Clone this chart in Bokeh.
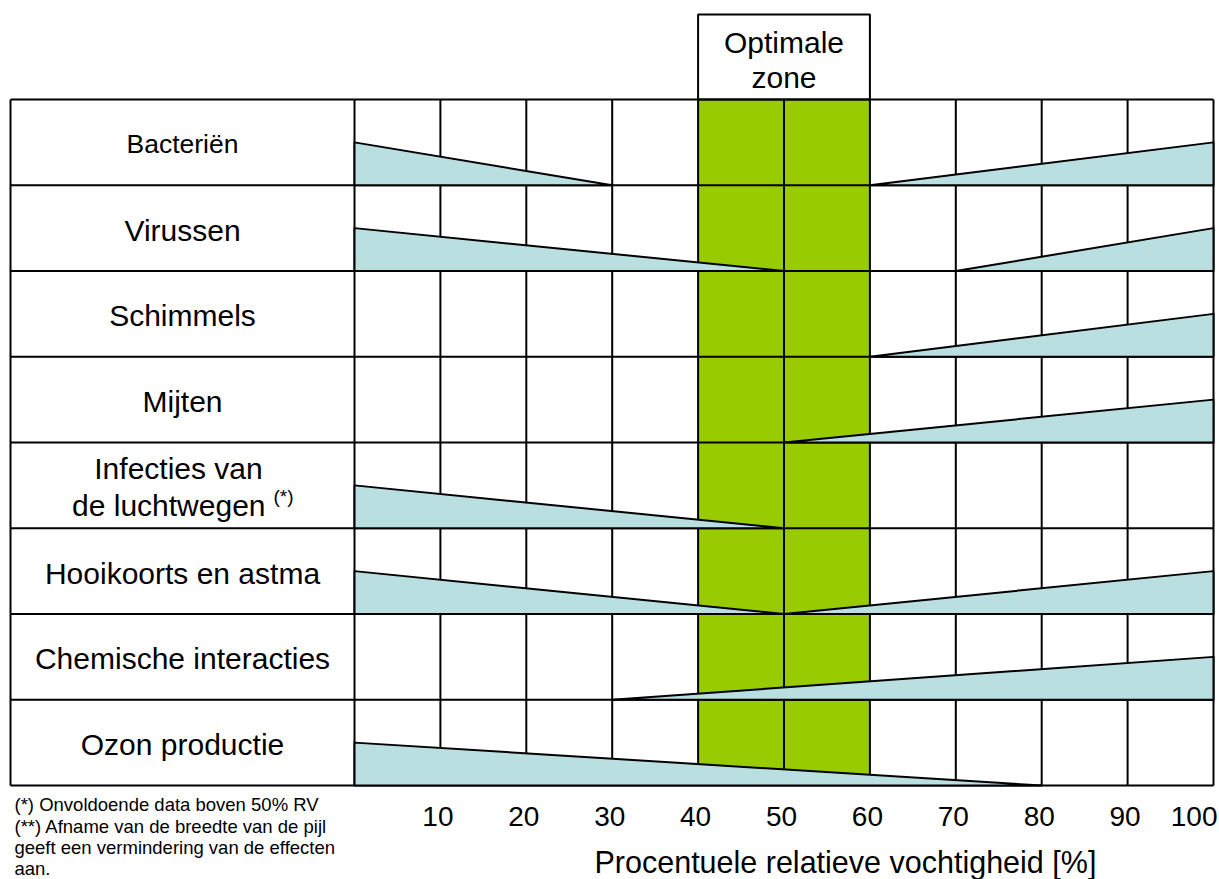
from bokeh.plotting import figure
from bokeh.models import ColumnDataSource, Range1d
from bokeh.core.properties import value
from bokeh.embed import file_html
from bokeh.resources import INLINE

# ---------------- data ----------------
categories = ["Bacteriën", "Virussen", "Schimmels", "Mijten",
              "Infecties van\nde luchtwegen", "Hooikoorts en astma",
              "Chemische interacties", "Ozon productie"]
markers = ["", "", "", "", "(*)", "", "", ""]
# left arrow: width (fraction of row) at 0 % RV, tapering to zero at left_end
left_width = [0.5, 0.5, 0.0, 0.0, 0.5, 0.5, 0.0, 0.5]
left_end = [30, 50, 0, 0, 50, 50, 0, 80]
# right arrow: starts at right_start, widening to right_width at 100 % RV
right_start = [60, 70, 60, 50, 100, 50, 30, 100]
right_width = [0.5, 0.5, 0.5, 0.5, 0.0, 0.5, 0.5, 0.0]
optimal_low, optimal_high = 40, 60
optimal_label = ["Optimale", "zone"]
tick_values = [10, 20, 30, 40, 50, 60, 70, 80, 90, 100]
grid_values = [0, 10, 20, 30, 40, 50, 60, 70, 80, 90, 100]
x_title = "Procentuele relatieve vochtigheid [%]"
footnotes = ["(*) Onvoldoende data boven 50% RV",
             "(**) Afname van de breedte van de pijl",
             "geeft een vermindering van de effecten",
             "aan."]

# ---------------- geometry ----------------
W, H = 1219, 879
PX = 8.59     # pixels per % RV
PY = 85.75    # pixels per row
X0_IMG, Y0_IMG = 354, 785   # canvas pixel of (0, 0)
SHIFT = 9     # text baseline correction (px, upward)

def dx(px):  # canvas px -> data x
    return (px - X0_IMG) / PX

def dy(py):  # canvas px (from top) -> data y
    return (Y0_IMG - py) / PY

def ty(py):  # text baseline px -> data y
    return dy(py - SHIFT)

FONT = value("Liberation Sans")
n = len(categories)
x_left = dx(10)
BLUE = "#B9DFE1"
GREEN = "#99CC00"

p = figure(width=W, height=H, output_backend="svg", toolbar_location=None,
           x_range=Range1d(dx(0), dx(W)), y_range=Range1d(dy(H), dy(0)),
           min_border=0, outline_line_color=None, background_fill_color="white",
           border_fill_color="white")
p.xaxis.visible = False
p.yaxis.visible = False
p.xgrid.visible = False
p.ygrid.visible = False

# optimal zone
p.quad(left=[optimal_low], right=[optimal_high], bottom=[0], top=[n],
       fill_color=GREEN, line_color=None)
p.quad(left=[optimal_low], right=[optimal_high], bottom=[n], top=[dy(14)],
       fill_color="white", line_color="black", line_width=2)
mid_opt = (optimal_low + optimal_high) / 2
p.text(x=[mid_opt, mid_opt], y=[ty(51), ty(86)], text=optimal_label,
       text_font=FONT, text_font_size="30px", text_align="center",
       text_baseline="alphabetic", text_color="black")

# grid lines
vx = [x_left] + grid_values
p.segment(x0=vx, y0=[0] * len(vx), x1=vx, y1=[n] * len(vx),
          line_color="black", line_width=2)
hy = list(range(n + 1))
p.segment(x0=[x_left] * len(hy), y0=hy, x1=[100] * len(hy), y1=hy,
          line_color="black", line_width=2)

# arrows (triangles)
xs, ys = [], []
for i in range(n):
    bottom = n - 1 - i
    if left_width[i] > 0:
        xs.append([0, 0, left_end[i]])
        ys.append([bottom, bottom + left_width[i], bottom])
    if right_width[i] > 0:
        xs.append([right_start[i], 100, 100])
        ys.append([bottom, bottom + right_width[i], bottom])
p.patches(xs=xs, ys=ys, fill_color=BLUE, line_color="black", line_width=2,
          line_join="round")

# category labels
label_x = (x_left + 0) / 2
single = dict(x=[], y=[], text=[], size=[])
for i, c in enumerate(categories):
    center_px = 99 + (i + 0.5) * PY
    if "\n" not in c:
        single["x"].append(label_x)
        single["y"].append(ty(center_px + 11))
        single["text"].append(c)
        single["size"].append("26.5px" if i == 0 else "30px")
    else:
        l1, l2 = c.split("\n")
        p.text(x=[dx(178)], y=[ty(center_px - 8)], text=[l1], text_font=FONT,
               text_font_size="30px", text_align="center",
               text_baseline="alphabetic", text_color="black")
        p.text(x=[dx(265)], y=[ty(center_px + 29)], text=[l2], text_font=FONT,
               text_font_size="30px", text_align="right",
               text_baseline="alphabetic", text_color="black")
        p.text(x=[dx(273)], y=[ty(center_px + 20)], text=[markers[i]],
               text_font=FONT, text_font_size="19px", text_align="left",
               text_baseline="alphabetic", text_color="black")
p.text(x="x", y="y", text="text", source=ColumnDataSource(single),
       text_font=FONT, text_font_size={"field": "size"}, text_align="center",
       text_baseline="alphabetic", text_color="black")

# tick labels
tick_y = ty(825)
p.text(x=[t - 2.5 / PX for t in tick_values[:-1]], y=[tick_y] * (len(tick_values) - 1),
       text=[str(t) for t in tick_values[:-1]], text_font=FONT, text_font_size="28px",
       text_align="center", text_baseline="alphabetic", text_color="black")
p.text(x=[tick_values[-1] + 4 / PX], y=[tick_y], text=[str(tick_values[-1])],
       text_font=FONT, text_font_size="28px", text_align="right",
       text_baseline="alphabetic", text_color="black")

# axis title
p.text(x=[dx(594)], y=[ty(870)], text=[x_title], text_font=FONT,
       text_font_size="30.5px", text_align="left", text_baseline="alphabetic",
       text_color="black")

# footnotes
fn_base = [813, 834.5, 856, 877]
p.text(x=[dx(14)] * len(footnotes), y=[ty(b) for b in fn_base],
       text=footnotes, text_font=FONT, text_font_size="18.5px", text_align="left",
       text_baseline="alphabetic", text_color="black")

open("out.html", "w").write(file_html(p, INLINE))
